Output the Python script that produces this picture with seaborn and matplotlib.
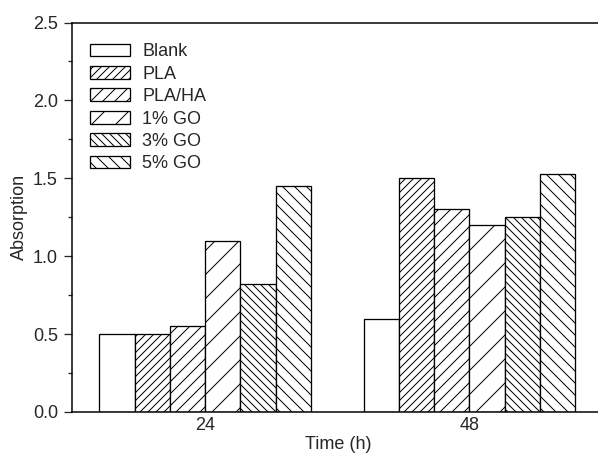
import numpy as np
import pandas as pd
import matplotlib
matplotlib.use('Agg')
import matplotlib.pyplot as plt
import seaborn as sns
from matplotlib.ticker import MultipleLocator

# ---- data ----
times = ['24', '48']
groups = ['Blank', 'PLA', 'PLA/HA', '1% GO', '3% GO', '5% GO']
abs_24 = [0.50, 0.50, 0.55, 1.10, 0.82, 1.45]
abs_48 = [0.60, 1.50, 1.30, 1.20, 1.25, 1.53]
hatches = ['', '///', '//', '/', '\\\\\\', '\\\\']

df = pd.DataFrame({
    'Time': [times[0]] * len(groups) + [times[1]] * len(groups),
    'Group': groups * 2,
    'Absorption': abs_24 + abs_48,
})

sns.set_style('ticks')
plt.rcParams['font.family'] = ['Liberation Sans', 'DejaVu Sans']
plt.rcParams['hatch.linewidth'] = 1.0
plt.rcParams['hatch.color'] = 'black'

# dpi 72 so the hatch spacing matches the original
fig = plt.figure(figsize=(598 / 72, 457 / 72), dpi=72)
ax = fig.add_axes([72 / 598, 45 / 457, (604 - 72) / 598, (412 - 22.5) / 457])

sns.barplot(data=df, x='Time', y='Absorption', hue='Group', hue_order=groups,
            order=times, palette=['white'] * len(groups), saturation=1,
            edgecolor='black', linewidth=1.3, width=0.8, legend=False, ax=ax)

for cont, h in zip(ax.containers, hatches):
    for bar in cont:
        bar.set_hatch(h)

ax.legend(ax.containers, groups, loc='upper left', frameon=False, fontsize=18,
          handlelength=2.22, handleheight=0.72, handletextpad=0.65,
          labelspacing=0.3, borderaxespad=0.4, borderpad=0.62,
          bbox_to_anchor=(0.0, 0.9936))

ax.set_ylim(0, 2.5)
ax.set_xlim(-0.504, 1.51)
ax.yaxis.set_major_locator(MultipleLocator(0.5))
ax.yaxis.set_minor_locator(MultipleLocator(0.25))
ax.tick_params(axis='y', which='major', direction='out', length=8, width=1.3,
               labelsize=18, pad=6)
ax.tick_params(axis='y', which='minor', direction='out', length=4, width=1.3)
ax.tick_params(axis='x', length=0, labelsize=18, pad=5)

ax.set_xlabel('Time (h)', fontsize=18, labelpad=2)
ax.set_ylabel('Absorption', fontsize=18, labelpad=5)

for side in ['left', 'bottom', 'top']:
    ax.spines[side].set_linewidth(1.5)
    ax.spines[side].set_color('black')
ax.spines['right'].set_visible(False)

fig.savefig('out.png', dpi=72)
